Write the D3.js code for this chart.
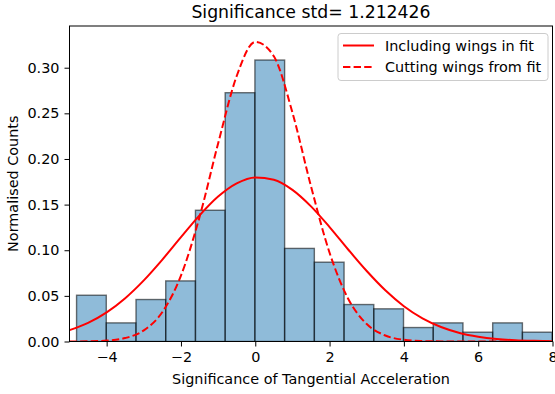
<!DOCTYPE html>
<html>
<head>
<meta charset="utf-8">
<script src="https://cdn.jsdelivr.net/npm/d3@7"></script>
<style>
  body { margin: 0; background: #fff; }
  svg { font-family: "DejaVu Sans", sans-serif; }
</style>
</head>
<body>
<svg id="chart" width="555" height="394"></svg>
<script>
// histogram bin edges and normalised heights
const binEdges = [-4.81, -4.01, -3.21, -2.41, -1.61, -0.81, -0.01, 0.79, 1.59, 2.39, 3.19, 3.99, 4.79, 5.59, 6.39, 7.19, 7.99];
const binValues = [0.0507, 0.0204, 0.0460, 0.0664, 0.1438, 0.2726, 0.3084, 0.1020, 0.0869, 0.0405, 0.0358, 0.0153, 0.0204, 0.0102, 0.0204, 0.0102];

// fitted curves
const curveX = [-5, -4.5, -4, -3.5, -3, -2.5, -2, -1.5, -1, -0.5, 0, 0.5, 1, 1.5, 2, 2.5, 3, 3.5, 4, 4.5, 5, 5.5, 6, 6.5, 7, 7.5, 8];
const wingsIn = [0.0125, 0.0205, 0.0320, 0.0475, 0.0670, 0.0898, 0.1143, 0.1382, 0.1588, 0.1733, 0.1798, 0.1773, 0.1662, 0.1481, 0.1254, 0.1008, 0.0772, 0.0561, 0.0387, 0.0254, 0.0159, 0.0094, 0.0053, 0.0028, 0.0014, 0.0007, 0.0003];
const wingsCut = [0.0000, 0.0002, 0.0010, 0.0038, 0.0122, 0.0323, 0.0722, 0.1364, 0.2170, 0.2909, 0.3283, 0.3125, 0.2509, 0.1700, 0.0972, 0.0469, 0.0191, 0.0066, 0.0019, 0.0005, 0.0001, 0, 0, 0, 0, 0, 0];

const xTicks = [-4, -2, 0, 2, 4, 6, 8];
const yTicks = [0, 0.05, 0.10, 0.15, 0.20, 0.25, 0.30];
const title = "Significance std= 1.212426";
const xLabel = "Significance of Tangential Acceleration";
const yLabel = "Normalised Counts";
const legendLabels = ["Including wings in fit", "Cutting wings from fit"];

const svg = d3.select("#chart");
const m = { left: 69.5, right: 552.5, top: 26, bottom: 341.5 };

const x = d3.scaleLinear().domain([-5, 8]).range([m.left, m.right]);
const y = d3.scaleLinear().domain([0, 0.3457]).range([m.bottom, m.top]);

svg.append("clipPath").attr("id", "clip")
    .append("rect")
    .attr("x", m.left).attr("y", m.top)
    .attr("width", m.right - m.left).attr("height", m.bottom - m.top);

const plot = svg.append("g").attr("clip-path", "url(#clip)");

// bars
plot.selectAll(".bar")
    .data(binValues)
    .enter()
    .append("rect")
    .classed("bar", true)
    .attr("x", (d, i) => x(binEdges[i]))
    .attr("width", (d, i) => x(binEdges[i + 1]) - x(binEdges[i]))
    .attr("y", d => y(d))
    .attr("height", d => y(0) - y(d))
    .attr("fill", "#1f77b4")
    .attr("fill-opacity", 0.5)
    .attr("stroke", "#000")
    .attr("stroke-opacity", 0.55)
    .attr("stroke-width", 1.4);

const line = d3.line()
    .x((d, i) => x(curveX[i]))
    .y(d => y(d))
    .curve(d3.curveMonotoneX);

plot.append("path")
    .datum(wingsIn)
    .attr("d", line)
    .attr("fill", "none")
    .attr("stroke", "red")
    .attr("stroke-width", 2);

plot.append("path")
    .datum(wingsCut)
    .attr("d", line)
    .attr("fill", "none")
    .attr("stroke", "red")
    .attr("stroke-width", 2)
    .attr("stroke-dasharray", "7.4,3.2");

// axes
const xAxis = d3.axisBottom(x)
    .tickValues(xTicks)
    .tickFormat(d3.format("d"))
    .tickSizeOuter(0)
    .tickSize(5)
    .tickPadding(5);

const yAxis = d3.axisLeft(y)
    .tickValues(yTicks)
    .tickFormat(d3.format(".2f"))
    .tickSizeOuter(0)
    .tickSize(5)
    .tickPadding(5);

const gx = svg.append("g")
    .attr("transform", `translate(0,${m.bottom})`)
    .call(xAxis);

const gy = svg.append("g")
    .attr("transform", `translate(${m.left},0)`)
    .call(yAxis);

[gx, gy].forEach(g => {
    g.selectAll("text").attr("font-size", 14.4).attr("fill", "#000")
        .attr("font-family", "DejaVu Sans, sans-serif");
    g.selectAll("line").attr("stroke", "#000");
    g.select(".domain").remove();
});

// frame
svg.append("rect")
    .attr("x", m.left).attr("y", m.top)
    .attr("width", m.right - m.left).attr("height", m.bottom - m.top)
    .attr("fill", "none")
    .attr("stroke", "#000")
    .attr("stroke-width", 1);

// labels
svg.append("text")
    .attr("x", (m.left + m.right) / 2)
    .attr("y", 18)
    .attr("text-anchor", "middle")
    .attr("font-size", 17.3)
    .text(title);

svg.append("text")
    .attr("x", (m.left + m.right) / 2)
    .attr("y", 384)
    .attr("text-anchor", "middle")
    .attr("font-size", 14.4)
    .text(xLabel);

svg.append("text")
    .attr("transform", `translate(18,${(m.top + m.bottom) / 2}) rotate(-90)`)
    .attr("text-anchor", "middle")
    .attr("font-size", 14.4)
    .text(yLabel);

// legend
const legend = svg.append("g");
legend.append("rect")
    .attr("x", 338).attr("y", 33.5)
    .attr("width", 210).attr("height", 47)
    .attr("rx", 3)
    .attr("fill", "#fff")
    .attr("fill-opacity", 0.8)
    .attr("stroke", "#ccc");

legendLabels.forEach((label, i) => {
    const ly = 45.5 + i * 21.5;
    legend.append("line")
        .attr("x1", 343).attr("x2", 374)
        .attr("y1", ly).attr("y2", ly)
        .attr("stroke", "red")
        .attr("stroke-width", 2)
        .attr("stroke-dasharray", i === 1 ? "7.4,3.2" : null);
    legend.append("text")
        .attr("x", 385).attr("y", ly)
        .attr("dy", "0.35em")
        .attr("font-size", 14.4)
        .text(label);
});
</script>
</body>
</html>
